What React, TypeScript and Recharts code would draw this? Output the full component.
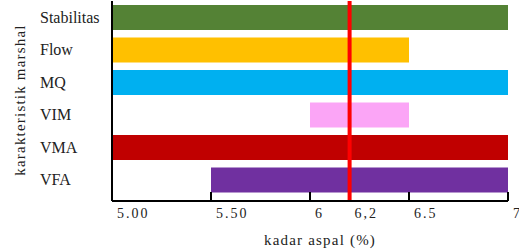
import { BarChart, Bar, XAxis, YAxis, Cell, ReferenceLine, Label } from 'recharts';

// karakteristik marshal -> rentang kadar aspal yang memenuhi spesifikasi
const categories = ['Stabilitas', 'Flow', 'MQ', 'VIM', 'VMA', 'VFA'];
const rangeStart = [5.0, 5.0, 5.0, 6.0, 5.0, 5.5];
const rangeEnd = [7.0, 6.5, 7.0, 6.5, 7.0, 7.0];
const barColors = ['#548235', '#FFC000', '#00B0F0', '#FBA5F6', '#C00000', '#7030A0'];

const xTicks = [5, 5.5, 6, 6.2, 6.5, 7];
const xTickLabels = ['5.00', '5.50', '6', '6,2', '6.5', '7'];
const kadarOptimum = 6.2;

const data = categories.map((name, i) => ({ name, range: [rangeStart[i], rangeEnd[i]] }));

const FONT = "'Liberation Serif', 'DejaVu Serif', serif";
const txt = { fontFamily: FONT, fill: '#222' };

const CategoryTick = ({ y, payload }: any) => (
  <text x={40} y={y} dominantBaseline="central" textAnchor="start" fontSize={16} style={txt}>
    {payload.value}
  </text>
);

const KadarTick = ({ x, y, payload }: any) => {
  const idx = xTicks.indexOf(payload.value);
  const showMark = payload.value !== 5 && payload.value !== kadarOptimum;
  return (
    <g>
      {showMark && <line x1={x} y1={y - 9} x2={x} y2={y} stroke="#000" strokeWidth={2} />}
      <text x={x + 5} y={y + 17} textAnchor="start" fontSize={14} letterSpacing={2} style={txt}>
        {xTickLabels[idx]}
      </text>
    </g>
  );
};

const YTitle = () => (
  <text
    x={20}
    y={100}
    transform="rotate(-90, 20, 100)"
    textAnchor="middle"
    dominantBaseline="central"
    fontSize={15}
    letterSpacing={1.2}
    style={txt}
  >
    karakteristik marshal
  </text>
);

const XTitle = () => (
  <text x={320} y={240} textAnchor="middle" dominantBaseline="central" fontSize={15} letterSpacing={1.2} style={txt}>
    kadar aspal (%)
  </text>
);

export default function App() {
  return (
    <div style={{ position: 'absolute', left: 0, top: 0, background: '#fff' }}>
      <BarChart
        width={519}
        height={250}
        data={data}
        layout="vertical"
        margin={{ top: 1, right: 11, bottom: 0, left: 0 }}
        barSize={25}
      >
        <XAxis
          type="number"
          domain={[5, 7]}
          ticks={xTicks}
          allowDataOverflow
          height={49}
          tickSize={0}
          tickMargin={0}
          tickLine={false}
          interval={0}
          axisLine={{ stroke: '#000', strokeWidth: 2 }}
          tick={<KadarTick />}
        >
          <Label content={<XTitle />} />
        </XAxis>
        <YAxis
          type="category"
          dataKey="name"
          width={112}
          padding={{ top: 0, bottom: 5 }}
          tickLine={false}
          axisLine={{ stroke: '#000', strokeWidth: 2 }}
          tick={<CategoryTick />}
        >
          <Label content={<YTitle />} />
        </YAxis>
        <Bar dataKey="range" isAnimationActive={false}>
          {data.map((d, i) => (
            <Cell key={d.name} fill={barColors[i]} />
          ))}
        </Bar>
        <ReferenceLine x={kadarOptimum} stroke="#FF0000" strokeWidth={4} ifOverflow="extendDomain" />
      </BarChart>
    </div>
  );
}
